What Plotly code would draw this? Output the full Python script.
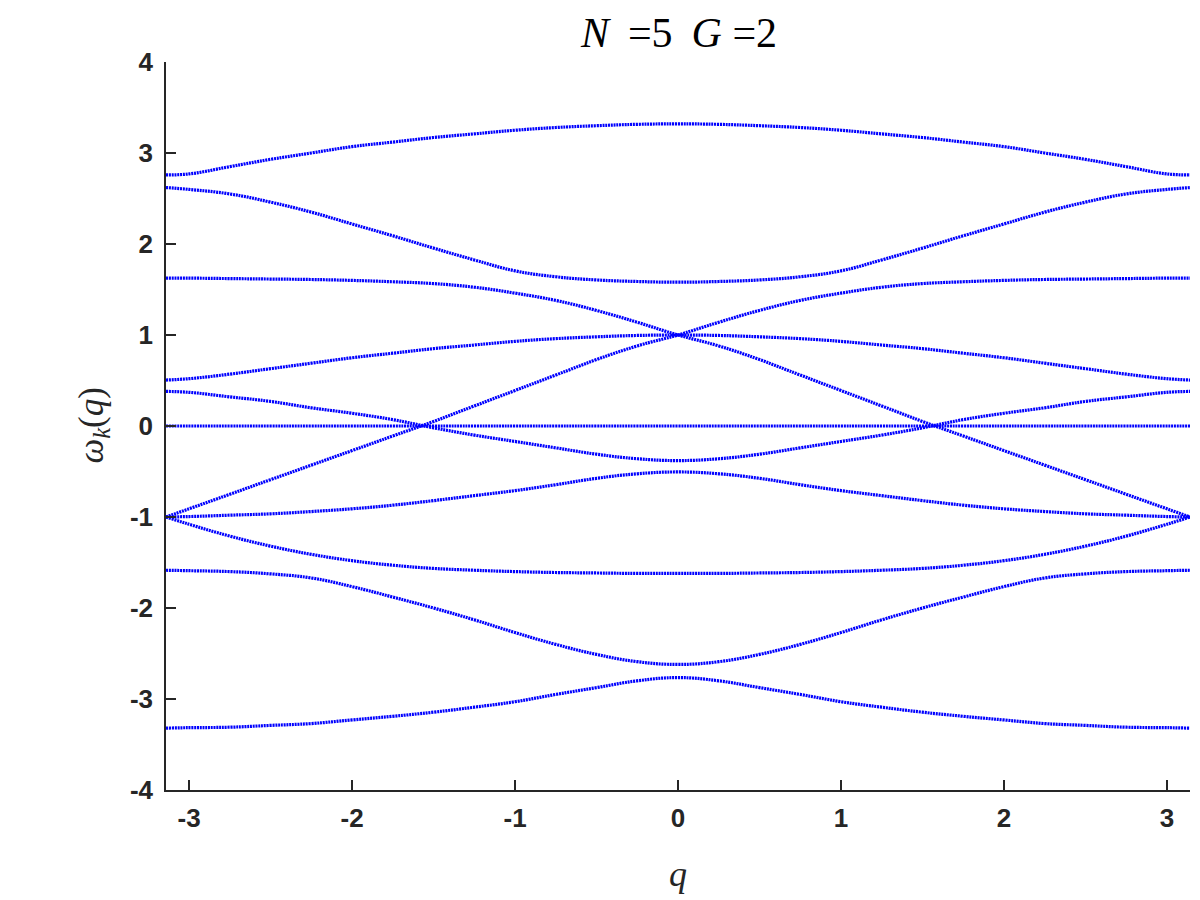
import plotly.graph_objects as go

# q sample points
Q = [-3.1416, -3.0, -2.75, -2.5, -2.25, -2.0, -1.75, -1.5, -1.25, -1.0, -0.75, -0.5, -0.25, 0.0,
     0.25, 0.5, 0.75, 1.0, 1.25, 1.5, 1.75, 2.0, 2.25, 2.5, 2.75, 3.0, 3.1416]

band_A = [2.76, 2.77, 2.85, 2.93, 3.00, 3.07, 3.12, 3.17, 3.21, 3.25, 3.28, 3.30, 3.315, 3.32,
          3.315, 3.30, 3.28, 3.25, 3.21, 3.17, 3.12, 3.07, 3.00, 2.93, 2.85, 2.77, 2.76]
band_B = [2.62, 2.60, 2.55, 2.46, 2.35, 2.22, 2.09, 1.955, 1.825, 1.705, 1.64, 1.605, 1.588, 1.58,
          1.588, 1.605, 1.64, 1.705, 1.825, 1.955, 2.09, 2.22, 2.35, 2.46, 2.55, 2.60, 2.62]
band_C = [1.625, 1.625, 1.62, 1.615, 1.61, 1.60, 1.585, 1.565, 1.525, 1.46, 1.38, 1.27, 1.14, 1.0,
          0.88, 0.73, 0.56, 0.39, 0.22, 0.05, -0.11, -0.27, -0.43, -0.59, -0.75, -0.91, -1.0]
band_Cp = [-1.0, -0.91, -0.75, -0.59, -0.43, -0.27, -0.11, 0.05, 0.22, 0.39, 0.56, 0.73, 0.88, 1.0,
           1.14, 1.27, 1.38, 1.46, 1.525, 1.565, 1.585, 1.60, 1.61, 1.615, 1.62, 1.625, 1.625]
band_D = [0.505, 0.52, 0.57, 0.63, 0.69, 0.75, 0.80, 0.85, 0.89, 0.93, 0.96, 0.98, 0.995, 1.0,
          0.995, 0.98, 0.96, 0.93, 0.89, 0.85, 0.80, 0.75, 0.69, 0.63, 0.57, 0.52, 0.505]
band_E = [0.38, 0.37, 0.32, 0.27, 0.20, 0.14, 0.07, -0.02, -0.10, -0.17, -0.24, -0.31, -0.36, -0.38,
          -0.36, -0.31, -0.24, -0.17, -0.10, -0.02, 0.07, 0.14, 0.20, 0.27, 0.32, 0.37, 0.38]
band_F = [0.0, 0.0, 0.0, 0.0, 0.0, 0.0, 0.0, 0.0, 0.0, 0.0, 0.0, 0.0, 0.0, 0.0,
          0.0, 0.0, 0.0, 0.0, 0.0, 0.0, 0.0, 0.0, 0.0, 0.0, 0.0, 0.0, 0.0]
band_G = [-1.0, -0.995, -0.98, -0.965, -0.94, -0.91, -0.87, -0.82, -0.765, -0.71, -0.645, -0.575, -0.525, -0.505,
          -0.525, -0.575, -0.645, -0.71, -0.765, -0.82, -0.87, -0.91, -0.94, -0.965, -0.98, -0.995, -1.0]
band_H = [-1.0, -1.08, -1.21, -1.32, -1.41, -1.48, -1.53, -1.565, -1.585, -1.60, -1.61, -1.615, -1.62, -1.62,
          -1.62, -1.615, -1.61, -1.60, -1.585, -1.565, -1.53, -1.48, -1.41, -1.32, -1.21, -1.08, -1.0]
band_I = [-1.585, -1.59, -1.60, -1.625, -1.67, -1.765, -1.88, -2.00, -2.13, -2.27, -2.40, -2.51, -2.59, -2.62,
          -2.59, -2.51, -2.40, -2.27, -2.13, -2.00, -1.88, -1.765, -1.67, -1.625, -1.60, -1.59, -1.585]
band_J = [-3.32, -3.315, -3.31, -3.29, -3.27, -3.23, -3.19, -3.145, -3.09, -3.03, -2.95, -2.875, -2.80, -2.765,
          -2.80, -2.875, -2.95, -3.03, -3.09, -3.145, -3.19, -3.23, -3.27, -3.29, -3.31, -3.315, -3.32]

bands = [band_A, band_B, band_C, band_Cp, band_D, band_E, band_F, band_G, band_H, band_I, band_J]

x_tickvals = [-3, -2, -1, 0, 1, 2, 3]
x_ticktext = ["-3", "-2", "-1", "0", "1", "2", "3"]
y_tickvals = [-4, -3, -2, -1, 0, 1, 2, 3, 4]
y_ticktext = ["-4", "-3", "-2", "-1", "0", "1", "2", "3", "4"]

fig = go.Figure()
for b in bands:
    fig.add_trace(go.Scatter(
        x=Q, y=b, mode="lines",
        line=dict(color="#0000FF", width=3.2, dash="2px,0.8px", shape="spline", smoothing=1.2),
        hoverinfo="skip", showlegend=False))

axis_color = "#262626"
tickfont = dict(family="Liberation Sans Narrow, Liberation Sans, Arial, sans-serif",
                size=26, color=axis_color, weight="bold")

fig.update_xaxes(range=[-3.1416, 3.1416], tickvals=x_tickvals, ticktext=x_ticktext,
                 ticks="inside", ticklen=10, tickwidth=1.5, tickcolor=axis_color,
                 showline=True, linecolor=axis_color, linewidth=1.5,
                 showgrid=False, zeroline=False, tickfont=tickfont, ticklabelstandoff=4)
fig.update_yaxes(range=[-4, 4], tickvals=y_tickvals, ticktext=y_ticktext,
                 ticks="inside", ticklen=10, tickwidth=1.5, tickcolor=axis_color,
                 showline=True, linecolor=axis_color, linewidth=1.5,
                 showgrid=False, zeroline=False, tickfont=tickfont, ticklabelstandoff=6)

serif = "Liberation Serif, DejaVu Serif, serif"
fig.update_layout(
    width=1200, height=900,
    margin=dict(l=158, r=18, t=54, b=118),
    plot_bgcolor="white", paper_bgcolor="white",
    showlegend=False,
    annotations=[
        dict(text="<i>N</i>&nbsp;&#8201;=5&nbsp;&#8201;<i>G</i>&nbsp;=2", xref="paper", yref="paper",
             x=0.5, y=1, yanchor="bottom", yshift=4, showarrow=False,
             font=dict(family=serif, size=42, color="black")),
        dict(text="<i>q</i>", xref="paper", yref="paper", x=0.5, y=0,
             yanchor="top", yshift=-62, showarrow=False,
             font=dict(family=serif, size=36, color=axis_color)),
        dict(text="<i>ω</i><sub><i>k</i></sub>(<i>q</i>)", xref="paper", yref="paper", x=0, y=0.5,
             xanchor="right", xshift=-50, textangle=-90, showarrow=False,
             font=dict(family=serif, size=35, color=axis_color)),
    ],
)

fig.write_html("out.html")
